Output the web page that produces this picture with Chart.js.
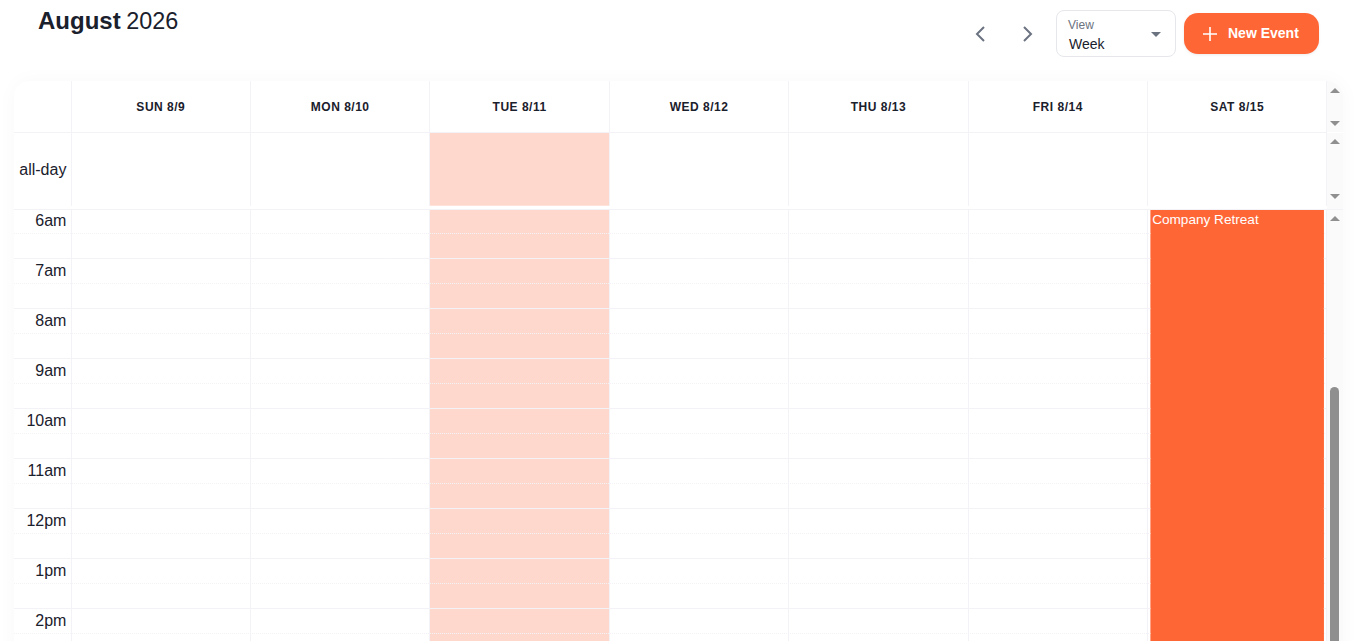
<!DOCTYPE html>
<html lang="en">

<head>
    <meta charset="UTF-8">
    <title>Calendar | Week</title>
    <script src="https://cdn.jsdelivr.net/npm/chart.js"></script>
    <style>
        body {
            margin: 0;
            width: 1356px;
            height: 641px;
            overflow: hidden;
            background: #fff;
            color: #1a202c;
            font-family: 'Liberation Sans', Arial, sans-serif;
            position: relative;
        }

        .titulo {
            position: absolute;
            left: 38px;
            top: 7px;
            font-size: 24px;
            line-height: 28px;
        }

        .titulo span {
            font-size: 23.4px;
            margin-left: -1px;
        }

        .seta {
            position: absolute;
            top: 24px;
        }

        .select {
            position: absolute;
            left: 1056px;
            top: 10px;
            width: 118px;
            height: 45px;
            border: 1px solid #e5e7eb;
            border-radius: 8px;
        }

        .select small {
            position: absolute;
            left: 11px;
            top: 7px;
            font-size: 12px;
            line-height: 14px;
            color: #6b7280;
        }

        .select span {
            position: absolute;
            left: 12px;
            top: 25px;
            font-size: 14px;
            line-height: 17px;
        }

        .select i {
            position: absolute;
            left: 94px;
            top: 21px;
            border-left: 5px solid transparent;
            border-right: 5px solid transparent;
            border-top: 5px solid #6b7280;
        }

        .botao {
            position: absolute;
            left: 1184px;
            top: 13px;
            width: 135px;
            height: 41px;
            border-radius: 14px;
            background: #ff6636;
            color: #fff;
            box-shadow: 0 1px 3px rgba(0, 0, 0, 0.08);
        }

        .botao svg {
            position: absolute;
            left: 19px;
            top: 14px;
        }

        .botao span {
            position: absolute;
            left: 44px;
            top: 12px;
            font-size: 14px;
            line-height: 16px;
            font-weight: bold;
        }

        .sombra {
            position: absolute;
            left: 14px;
            top: 81px;
            width: 1329px;
            height: 600px;
            border-radius: 16px 16px 0 0;
            box-shadow: 0 0 20px rgba(0, 0, 0, 0.03);
        }

        .card {
            position: absolute;
            left: 14px;
            top: 81px;
            width: 1329px;
            height: 560px;
            border-radius: 16px 16px 0 0;
            overflow: hidden;
            background: #fff;
        }

        canvas {
            position: absolute;
            left: 0;
        }

        .trilha {
            position: absolute;
            left: 1313px;
            width: 16px;
            background: #fafafa;
        }

        .trilha b {
            position: absolute;
            left: 3px;
            border-left: 5px solid transparent;
            border-right: 5px solid transparent;
        }

        .sobe {
            border-bottom: 5px solid #8f8f8f;
        }

        .desce {
            border-top: 5px solid #8f8f8f;
        }

        .polegar {
            position: absolute;
            left: 3px;
            top: 177px;
            width: 9px;
            height: 300px;
            border-radius: 4.5px;
            background: #8f8f8f;
        }
    </style>
</head>

<body>
    <div class="titulo"><strong>August</strong> <span>2026</span></div>

    <svg class="seta" style="left: 972px" width="16" height="20" viewBox="0 0 16 20">
        <path d="M12 3 L5 10 L12 17" fill="none" stroke="#6b7280" stroke-width="2" />
    </svg>
    <svg class="seta" style="left: 1020px" width="16" height="20" viewBox="0 0 16 20">
        <path d="M4 3 L11 10 L4 17" fill="none" stroke="#6b7280" stroke-width="2" />
    </svg>

    <div class="select"><small>View</small><span>Week</span><i></i></div>

    <div class="botao">
        <svg width="14" height="14" viewBox="0 0 14 14">
            <path d="M7 0 V14 M0 7 H14" stroke="#fff" stroke-width="1.6" />
        </svg>
        <span>New Event</span>
    </div>

    <div class="sombra"></div>
    <div class="card">
        <canvas id="diaTodo" width="1313" height="125" style="top: 0"></canvas>
        <canvas id="semana" width="1313" height="432" style="top: 128px"></canvas>

        <div class="trilha" style="top: 0; height: 51px"><b class="sobe" style="top: 7px"></b><b class="desce" style="top: 40px"></b></div>
        <div class="trilha" style="top: 52px; height: 76px"><b class="sobe" style="top: 6px"></b><b class="desce" style="top: 61px"></b></div>
        <div class="trilha" style="top: 128px; height: 432px; border-top: 1px solid #f2f2f7"><b class="sobe" style="top: 6px"></b><div class="polegar"></div></div>
    </div>

    <script>
        const dias = ['SUN 8/9', 'MON 8/10', 'TUE 8/11', 'WED 8/12', 'THU 8/13', 'FRI 8/14', 'SAT 8/15'];
        const horas = [6, 7, 8, 9, 10, 11, 12, 13, 14];
        const rotulosHoras = ['6am', '7am', '8am', '9am', '10am', '11am', '12pm', '1pm', '2pm'];
        const meiasHoras = [6.5, 7.5, 8.5, 9.5, 10.5, 11.5, 12.5, 13.5, 14.5];

        const hojeDiaTodo = [null, null, [0, 1], null, null, null, null];
        const hojeSemana = [null, null, [6, 24], null, null, null, null];
        const retiro = [null, null, null, null, null, null, [6, 24]];
        const nomeRetiro = 'Company Retreat';

        const inicioVisivel = 6.02; // the grid is scrolled one pixel past 6am
        const fimVisivel = 14.65;

        const larguraHoras = 57.1;
        const folgaDireita = 0.1;

        const corLinha = '#f2f2f7';
        const corHoje = '#ffd8cd';
        const corEvento = '#ff6636';
        const corTexto = '#1a202c';

        // opaque context so text gets the same antialiasing as the page text
        function contexto(id) {
            return document.getElementById(id).getContext('2d', { alpha: false });
        }

        const fundoBranco = {
            id: 'fundoBranco',
            beforeDraw(chart) {
                chart.ctx.fillStyle = '#fff';
                chart.ctx.fillRect(0, 0, chart.width, chart.height);
            }
        };

        // grid sits above the today column but under the event
        const eventoPorCima = {
            id: 'eventoPorCima',
            afterDraw(chart) {
                const barra = chart.getDatasetMeta(1).data[6];
                const area = chart.chartArea;
                const ctx = chart.ctx;
                ctx.save();
                ctx.beginPath();
                ctx.rect(area.left, area.top + 0.5, area.right - area.left, area.bottom - area.top);
                ctx.clip();
                barra.draw(ctx);
                ctx.fillStyle = '#fff';
                ctx.font = '13.6px "Liberation Sans"';
                ctx.textBaseline = 'middle';
                ctx.fillText(nomeRetiro, barra.x - barra.width / 2 + 1.5, area.top + 11);
                ctx.restore();
            }
        };

        const comum = {
            responsive: false,
            animation: false,
            devicePixelRatio: 1,
            plugins: { legend: { display: false }, tooltip: { enabled: false } },
            events: []
        };

        new Chart(contexto('diaTodo'), {
            type: 'bar',
            data: {
                labels: dias,
                datasets: [{
                    data: hojeDiaTodo,
                    backgroundColor: corHoje,
                    barPercentage: 1,
                    categoryPercentage: 1
                }]
            },
            plugins: [fundoBranco],
            options: {
                ...comum,
                layout: { autoPadding: false, padding: { right: folgaDireita } },
                scales: {
                    x: {
                        position: 'top',
                        afterFit(scale) {
                            scale.height = 51.5;
                        },
                        afterUpdate(scale) {
                            if (scale.desenhoOriginal) return;
                            scale.desenhoOriginal = scale.drawLabels;
                            scale.drawLabels = function (area) {
                                scale.ctx.letterSpacing = '0.5px';
                                scale.desenhoOriginal(area);
                                scale.ctx.letterSpacing = '0px';
                            };
                        },
                        grid: { color: corLinha, tickLength: 51.5, z: 1 },
                        border: { color: corLinha, z: 1 },
                        ticks: {
                            color: corTexto,
                            font: { family: 'Liberation Sans', size: 12, weight: 'bold' },
                            padding: -34,
                            autoSkip: false,
                            maxRotation: 0
                        }
                    },
                    y: {
                        min: 0,
                        max: 1,
                        afterFit(scale) {
                            scale.width = larguraHoras;
                        },
                        afterBuildTicks(scale) {
                            scale.ticks = [{ value: 0 }, { value: 0.5 }, { value: 1 }];
                        },
                        grid: {
                            color: (ctx) => (ctx.tick.value === 1 ? corLinha : 'transparent'),
                            tickLength: larguraHoras,
                            z: 1
                        },
                        border: { color: corLinha, z: 1 },
                        ticks: {
                            color: corTexto,
                            font: { family: 'Liberation Sans', size: 16 },
                            padding: -52.4,
                            labelOffset: 1,
                            callback: (valor) => (valor === 0.5 ? 'all-day' : '')
                        }
                    }
                }
            }
        });

        new Chart(contexto('semana'), {
            type: 'bar',
            data: {
                labels: dias,
                datasets: [{
                    data: hojeSemana,
                    backgroundColor: corHoje,
                    grouped: false,
                    barPercentage: 1,
                    categoryPercentage: 1
                }, {
                    data: retiro,
                    backgroundColor: corEvento,
                    grouped: false,
                    barPercentage: 0.965,
                    categoryPercentage: 1
                }]
            },
            plugins: [fundoBranco, eventoPorCima],
            options: {
                ...comum,
                layout: { autoPadding: false, padding: { top: 0.5, right: folgaDireita } },
                scales: {
                    x: {
                        position: 'top',
                        afterFit(scale) {
                            scale.height = 0;
                        },
                        grid: { color: corLinha, drawTicks: false, z: 1 },
                        border: { color: corLinha, z: 1 },
                        ticks: { display: false }
                    },
                    y: {
                        reverse: true,
                        min: inicioVisivel,
                        max: fimVisivel,
                        afterFit(scale) {
                            scale.width = larguraHoras;
                        },
                        afterBuildTicks(scale) {
                            const valores = [...horas, ...meiasHoras, inicioVisivel].sort((a, b) => a - b);
                            scale.ticks = valores.map((value) => ({ value }));
                        },
                        grid: {
                            color: corLinha,
                            tickLength: larguraHoras,
                            tickBorderDash: (ctx) => (ctx.tick.value % 1 === 0.5 ? [1, 1] : []),
                            z: 1
                        },
                        border: {
                            color: corLinha,
                            dash: (ctx) => (ctx.tick && ctx.tick.value % 1 === 0.5 ? [1, 1] : []),
                            z: 1
                        },
                        ticks: {
                            color: corTexto,
                            font: { family: 'Liberation Sans', size: 16 },
                            padding: -52.4,
                            labelOffset: 13.5,
                            autoSkip: false,
                            callback: (valor) => {
                                const i = horas.indexOf(valor);
                                return i >= 0 ? rotulosHoras[i] : '';
                            }
                        }
                    }
                }
            }
        });
    </script>
</body>

</html>
